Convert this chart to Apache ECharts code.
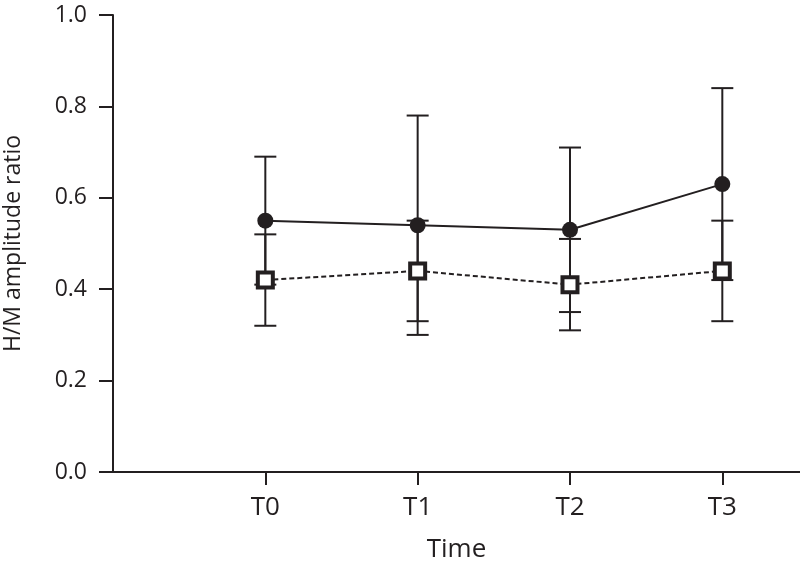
<!DOCTYPE html>
<html>
<head>
<meta charset="utf-8">
<script src="https://cdn.jsdelivr.net/npm/echarts@6/dist/echarts.min.js"></script>
<style>html,body{margin:0;padding:0;background:#fff}#c{width:800px;height:568px}</style>
</head>
<body>
<div id="c"></div>
<script>
var categories = ["T0", "T1", "T2", "T3"];
var categoryPos = [1, 2, 3, 4];
var circleMean = [0.55, 0.54, 0.53, 0.63];
var circleErr = [0.14, 0.24, 0.18, 0.21];
var squareMean = [0.42, 0.44, 0.41, 0.44];
var squareErr = [0.10, 0.11, 0.10, 0.11];
var yTicks = [0, 0.2, 0.4, 0.6, 0.8, 1.0];

var INK = '#231f20';
var FONT = 'Open Sans';

function pts(means) { return categoryPos.map(function (x, i) { return [x, means[i]]; }); }
function errData(means, errs) {
  return categoryPos.map(function (x, i) { return [x, means[i] - errs[i], means[i] + errs[i]]; });
}
function errRender(params, api) {
  var x = api.value(0);
  var lo = api.coord([x, api.value(1)]);
  var hi = api.coord([x, api.value(2)]);
  var hw = 11;
  var st = { stroke: INK, lineWidth: 2 };
  return {
    type: 'group',
    children: [
      { type: 'line', shape: { x1: lo[0], y1: lo[1], x2: hi[0], y2: hi[1] }, style: st },
      { type: 'line', shape: { x1: lo[0] - hw, y1: lo[1], x2: lo[0] + hw, y2: lo[1] }, style: st },
      { type: 'line', shape: { x1: hi[0] - hw, y1: hi[1], x2: hi[0] + hw, y2: hi[1] }, style: st }
    ]
  };
}

var chart = echarts.init(document.getElementById('c'), null, { renderer: 'canvas' });
chart.setOption({
  animation: false,
  backgroundColor: '#fff',
  grid: { left: 113, right: 0, top: 15, bottom: 96, containLabel: false, outerBoundsMode: 'none' },
  xAxis: {
    type: 'value', min: 0, max: 4.51,
    name: 'Time', nameLocation: 'middle', nameGap: 65,
    nameTextStyle: { color: INK, fontSize: 26, fontFamily: FONT },
    axisLine: { show: true, onZero: false, lineStyle: { color: INK, width: 2 } },
    axisTick: { show: true, customValues: categoryPos, length: 13, lineStyle: { color: INK, width: 2 } },
    axisLabel: {
      customValues: categoryPos, margin: 23, color: INK, fontSize: 26, fontFamily: FONT,
      formatter: function (v) { var i = categoryPos.indexOf(Math.round(v)); return i >= 0 ? categories[i] : ''; }
    },
    splitLine: { show: false }
  },
  yAxis: {
    type: 'value', min: 0, max: 1, interval: 0.2,
    name: 'H/M amplitude ratio', nameLocation: 'middle', nameGap: 88, nameRotate: 90,
    nameTextStyle: { color: INK, fontSize: 23, fontFamily: FONT },
    axisLine: { show: true, lineStyle: { color: INK, width: 2 } },
    axisTick: { show: true, length: 14, lineStyle: { color: INK, width: 2 } },
    axisLabel: {
      margin: 26, color: INK, fontSize: 23, fontFamily: FONT,
      formatter: function (v) { return v.toFixed(1); }
    },
    splitLine: { show: false }
  },
  series: [
    { type: 'custom', renderItem: errRender, data: errData(circleMean, circleErr), z: 1 },
    { type: 'custom', renderItem: errRender, data: errData(squareMean, squareErr), z: 1 },
    {
      type: 'line', data: pts(circleMean), z: 3,
      symbol: 'circle', symbolSize: 16,
      itemStyle: { color: INK, borderWidth: 0 },
      lineStyle: { color: INK, width: 2, type: 'solid' }
    },
    {
      type: 'line', data: pts(squareMean), z: 3,
      symbol: 'rect', symbolSize: 15,
      itemStyle: { color: '#fff', borderColor: INK, borderWidth: 4 },
      lineStyle: { color: INK, width: 2, type: [5, 3] }
    }
  ]
});
</script>
</body>
</html>
